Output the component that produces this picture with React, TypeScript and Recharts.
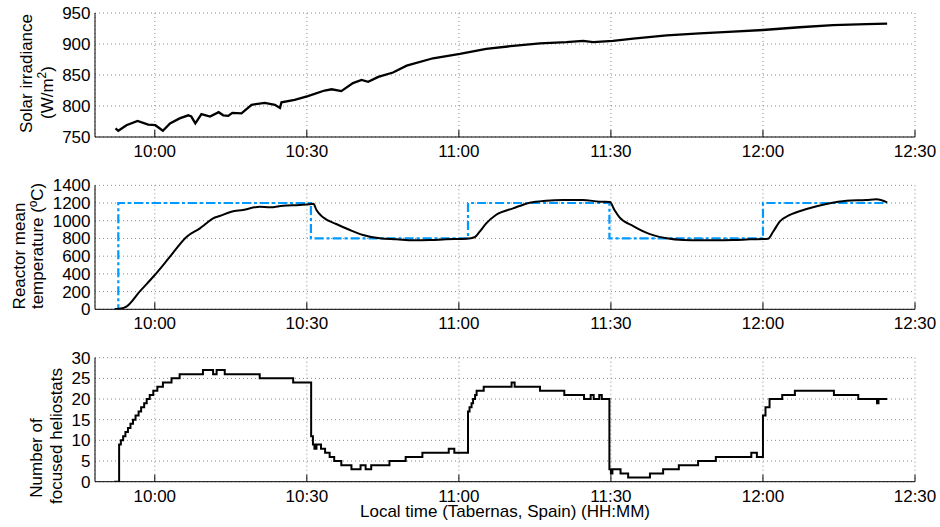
import React from 'react';
import { LineChart, Line, XAxis, YAxis, CartesianGrid } from 'recharts';

// time in minutes after 09:00
const xTicks = [60, 90, 120, 150, 180, 210];
const xDomain: [number, number] = [48.2, 210];

const irradianceTimes = [52.25, 52.8, 54.4, 56.6, 58.7, 60.1, 61.6, 63, 64.9, 66.6, 67.2, 68, 69.2, 70.9, 72.6, 73.5, 74.5, 75.3, 77.1, 79.1, 81.7, 83.7, 84.7, 85, 87.6, 90.2, 93.5, 94.9, 96.8, 99.1, 100.8, 102.1, 104.1, 107, 109.7, 114.9, 120.2, 125.4, 130.7, 136, 141.2, 144.5, 146.5, 150.4, 154.4, 161, 167.5, 174.1, 180, 187.2, 193.8, 200.4, 204.5];
const irradianceValues = [764, 760, 769, 776, 770, 769, 760, 772, 780, 785, 783, 772, 787, 783, 790, 785, 784, 789, 788, 802, 805, 802, 797, 806, 810, 816, 825, 827, 824, 837, 842, 839, 847, 854, 865, 877, 884, 892, 897, 901, 903, 905, 903, 905, 908.5, 914, 917, 920, 922.6, 927, 930.5, 932, 933];
const irradianceTicks = [750, 800, 850, 900, 950];

const setpointTimes = [52.0, 52.8, 90.8, 121.8, 149.7, 180.0, 204.5];
const setpointValues = [0, 1200, 800, 1200, 800, 1200, 1200];

const temperatureTimes = [52.1, 53.0, 54.4, 57, 60, 63, 66.3, 68.9, 70.2, 71.5, 72.8, 75.1, 77.4, 80.7, 82.7, 85.3, 88.6, 90.5, 91.3, 91.9, 93.2, 95.8, 98.5, 101.1, 104.4, 107.7, 111, 114.3, 117.5, 121.5, 123.1, 124.1, 125.4, 127.3, 130.7, 134, 137.2, 140.5, 144.4, 147.8, 149.8, 150.7, 151.7, 154.4, 157.7, 161, 164.3, 167.5, 170.8, 174.1, 177.4, 181, 182, 183.3, 185.3, 188.6, 192.5, 196.5, 200.4, 202.4, 204.5];
const temperatureValues = [0, 5, 30, 199, 387, 594, 820, 914, 971, 1027, 1053, 1102, 1121, 1158, 1151, 1170, 1178, 1185, 1192, 1121, 1039, 963, 895, 839, 801, 790, 779, 782, 790, 797, 813, 876, 971, 1065, 1140, 1204, 1226, 1234, 1234, 1215, 1212, 1121, 1039, 940, 849, 801, 782, 779, 779, 782, 790, 797, 876, 989, 1065, 1132, 1189, 1226, 1234, 1242, 1208];
const temperatureTicks = [0, 200, 400, 600, 800, 1000, 1200, 1400];

const heliostatTimes = [52.0, 52.96, 53.3, 53.75, 54.2, 54.7, 55.2, 55.7, 56.2, 56.8, 57.3, 57.9, 58.4, 59.0, 59.7, 60.5, 61.6, 63.3, 64.9, 69.5, 71.5, 72.2, 73.8, 80.7, 87.3, 90.85, 91.2, 91.5, 91.9, 92.8, 93.6, 94.5, 95.4, 96.8, 98.8, 100.6, 101.6, 102.7, 106.3, 109.5, 112.8, 118, 119.1, 121.8, 122.1, 122.5, 122.8, 123.2, 123.5, 124.9, 130.4, 131, 136, 140.8, 144.7, 146.0, 146.6, 147.7, 148.2, 149.7, 150.0, 150.3, 151.9, 153.4, 157.7, 160.3, 163.4, 167.2, 170.7, 177.7, 178.8, 180.0, 180.5, 181.3, 183.8, 186.3, 194, 198.8, 202.5, 202.8, 204.5];
const heliostatValues = [0, 9, 10, 11, 12, 13, 14, 15, 16, 17, 18, 19, 20, 21, 22, 23, 24, 25, 26, 27, 26, 27, 26, 25, 24, 11, 9, 8, 9, 8, 7, 6, 5, 4, 3, 4, 3, 4, 5, 6, 7, 8, 7, 17, 18, 19, 20, 21, 22, 23, 24, 23, 22, 21, 20, 21, 20, 21, 20, 3, 2, 3, 2, 1, 2, 3, 4, 5, 6, 7, 6, 16, 18, 20, 21, 22, 21, 20, 19, 20, 20];
const heliostatTicks = [0, 5, 10, 15, 20, 25, 30];

const zip = (ts: number[], vs: number[]) => ts.map((t, i) => ({ t, v: vs[i] }));
const irradianceData = zip(irradianceTimes, irradianceValues);
const setpointData = zip(setpointTimes, setpointValues);
const temperatureData = zip(temperatureTimes, temperatureValues);
const heliostatData = zip(heliostatTimes, heliostatValues);

const FONT = '"Liberation Sans", Arial, Helvetica, sans-serif';
const FS = 17;

const fmtTime = (m: number) => {
  const h = 9 + Math.floor(m / 60);
  const mm = Math.round(m % 60);
  return `${h}:${mm < 10 ? '0' + mm : mm}`;
};

const XTick = (props: any) => {
  const { x, y, payload } = props;
  return (
    <g>
      <line x1={x} x2={x} y1={y} y2={y - 7} stroke="#000" strokeWidth={1} />
      <text x={x} y={y + 20} textAnchor="middle" fontSize={FS} fontFamily={FONT} fill="#000">
        {fmtTime(payload.value)}
      </text>
    </g>
  );
};

const YTick = (props: any) => {
  const { x, y, payload } = props;
  return (
    <text x={x - 4.5} y={y + 6} textAnchor="end" fontSize={FS} fontFamily={FONT} fill="#000">
      {payload.value}
    </text>
  );
};

type PanelProps = {
  top: number;
  height: number;
  marginTop: number;
  marginBottom: number;
  yDomain: [number, number];
  yTicks: number[];
  children: React.ReactNode;
};

const Panel = ({ top, height, marginTop, marginBottom, yDomain, yTicks, children }: PanelProps) => (
  <div style={{ position: 'absolute', left: 0, top, width: 940, height }}>
    <LineChart width={940} height={height} margin={{ top: marginTop, right: 25, bottom: marginBottom, left: 0 }}>
      <CartesianGrid stroke="#8a8a8a" strokeDasharray="1 3" />
      <XAxis
        dataKey="t"
        type="number"
        domain={xDomain}
        ticks={xTicks}
        interval={0}
        allowDataOverflow
        height={25}
        tickSize={0}
        tickMargin={0}
        tickLine={false}
        axisLine={{ stroke: '#000', strokeWidth: 1 }}
        tick={<XTick />}
      />
      <YAxis
        dataKey="v"
        type="number"
        domain={yDomain}
        ticks={yTicks}
        interval={0}
        allowDataOverflow
        width={95}
        tickSize={0}
        tickMargin={0}
        tickLine={false}
        axisLine={{ stroke: '#000', strokeWidth: 1 }}
        tick={<YTick />}
      />
      {children}
    </LineChart>
  </div>
);

export default function App() {
  return (
    <div style={{ position: 'absolute', left: 0, top: 0, width: 940, height: 527, background: '#fff', overflow: 'hidden' }}>
      <Panel top={0} height={170} marginTop={13} marginBottom={8} yDomain={[750, 950]} yTicks={irradianceTicks}>
        <Line data={irradianceData} dataKey="v" type="linear" stroke="#000" strokeWidth={2.3} dot={false} isAnimationActive={false} />
      </Panel>
      <Panel top={160} height={175} marginTop={25.3} marginBottom={0.7} yDomain={[0, 1400]} yTicks={temperatureTicks}>
        <Line data={setpointData} dataKey="v" type="stepAfter" stroke="#0099ff" strokeWidth={2.2} strokeDasharray="9 3 3 3" dot={false} isAnimationActive={false} />
        <Line data={temperatureData} dataKey="v" type="monotone" stroke="#000" strokeWidth={2} dot={false} isAnimationActive={false} />
      </Panel>
      <Panel top={335} height={192} marginTop={22.7} marginBottom={20.3} yDomain={[0, 30]} yTicks={heliostatTicks}>
        <Line data={heliostatData} dataKey="v" type="stepAfter" stroke="#000" strokeWidth={2} dot={false} isAnimationActive={false} />
      </Panel>
      <svg width={940} height={527} style={{ position: 'absolute', left: 0, top: 0, pointerEvents: 'none' }} fontFamily={FONT} fontSize={FS} fill="#000">
        <text transform="translate(31.5,73.5) rotate(-90)" textAnchor="middle">Solar irradiance</text>
        <text transform="translate(53,92.5) rotate(-90)" textAnchor="middle">
          <tspan>(W/m</tspan>
          <tspan dy={-7} fontSize={12}>2</tspan>
          <tspan dy={7}>)</tspan>
        </text>
        <text transform="translate(25,256) rotate(-90)" textAnchor="middle">Reactor mean</text>
        <text transform="translate(43.3,246) rotate(-90)" textAnchor="middle">temperature (ºC)</text>
        <text transform="translate(41.7,458) rotate(-90)" textAnchor="middle">Number of</text>
        <text transform="translate(61.7,436) rotate(-90)" textAnchor="middle">focused heliostats</text>
        <text x={505} y={517} textAnchor="middle">Local time (Tabernas, Spain) (HH:MM)</text>
      </svg>
    </div>
  );
}
